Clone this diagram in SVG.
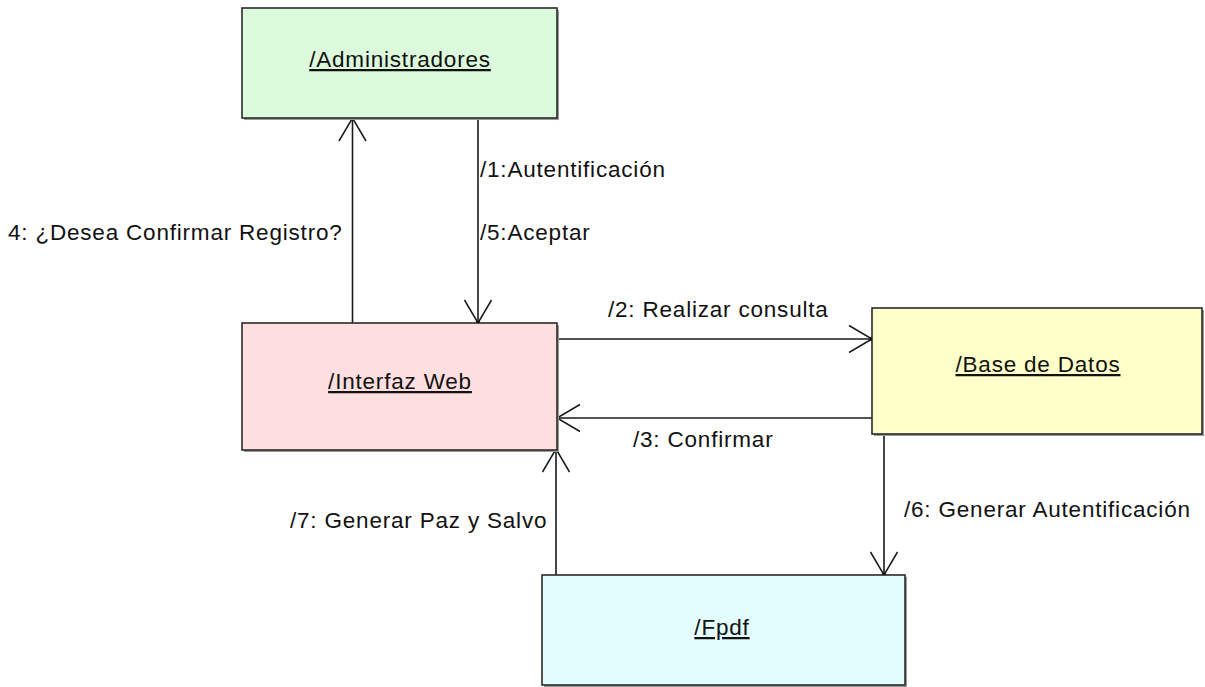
<svg xmlns="http://www.w3.org/2000/svg" width="1205" height="687" viewBox="0 0 1205 687">
<style>
  .box { stroke: #2a2a2a; stroke-width: 1.6; }
  .shadow { fill: #9a9a9a; }
  .lbl { font-family: "Liberation Sans", Arial, sans-serif; font-size: 22.5px; letter-spacing: 0.8px; fill: #111; }
  .name { font-family: "Liberation Sans", Arial, sans-serif; font-size: 22.5px; letter-spacing: 0.8px; fill: #111; text-anchor: middle; text-decoration: underline; }
  .conn { stroke: #1a1a1a; stroke-width: 1.6; fill: none; }
</style>
<defs>
  <marker id="arr" markerUnits="userSpaceOnUse" markerWidth="40" markerHeight="40" viewBox="-30 -20 40 40" refX="0" refY="0" orient="auto">
    <path d="M-23,-13.5 L0,0 L-23,13.5" fill="none" stroke="#1a1a1a" stroke-width="1.5"/>
    <circle cx="0" cy="0" r="2.2" fill="#000"/>
  </marker>
</defs>
<rect width="1205" height="687" fill="#ffffff"/>

<g id="connectors">
  <line class="conn" x1="352.5" y1="323" x2="352.5" y2="118" marker-end="url(#arr)"/>
  <line class="conn" x1="478" y1="118" x2="478" y2="323" marker-end="url(#arr)"/>
  <line class="conn" x1="557" y1="339" x2="872" y2="339" marker-end="url(#arr)"/>
  <line class="conn" x1="872" y1="418" x2="557" y2="418" marker-end="url(#arr)"/>
  <line class="conn" x1="884" y1="434" x2="884" y2="575" marker-end="url(#arr)"/>
  <line class="conn" x1="556" y1="575" x2="556" y2="449" marker-end="url(#arr)"/>
  <text class="lbl" x="480" y="177">/1:Autentificación</text>
  <text class="lbl" x="480" y="240">/5:Aceptar</text>
  <text class="lbl" x="8" y="240">4: ¿Desea Confirmar Registro?</text>
  <text class="lbl" x="608" y="317">/2: Realizar consulta</text>
  <text class="lbl" x="633" y="447">/3: Confirmar</text>
  <text class="lbl" x="290" y="528">/7: Generar Paz y Salvo</text>
  <text class="lbl" x="904" y="517">/6: Generar Autentificación</text>
</g>

<g id="administradores">
  <rect class="shadow" x="244" y="10" width="315" height="110"/>
  <rect class="box" x="242" y="8" width="315" height="110" fill="#dcfadc"/>
  <text class="name" x="400" y="67">/Administradores</text>
</g>

<g id="interfaz-web">
  <rect class="shadow" x="244" y="325" width="315" height="127"/>
  <rect class="box" x="242" y="323" width="315" height="127" fill="#ffdfe0"/>
  <text class="name" x="400" y="389">/Interfaz Web</text>
</g>

<g id="base-de-datos">
  <rect class="shadow" x="874" y="310" width="330" height="126"/>
  <rect class="box" x="872" y="308" width="330" height="126" fill="#ffffc9"/>
  <text class="name" x="1038" y="372">/Base de Datos</text>
</g>

<g id="fpdf">
  <rect class="shadow" x="544" y="577" width="363" height="110"/>
  <rect class="box" x="542" y="575" width="363" height="110" fill="#e3fdfd"/>
  <text class="name" x="722" y="635">/Fpdf</text>
</g>
</svg>
